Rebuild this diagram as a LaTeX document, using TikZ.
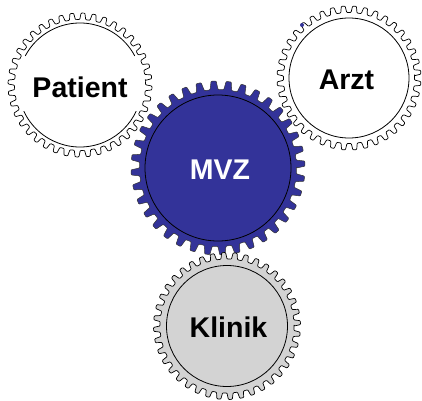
\documentclass[tikz,border=0pt]{standalone}
\usepackage{fontspec}
\setmainfont{Liberation Sans}
\usepackage{tikz}
\usetikzlibrary{positioning}

\definecolor{mvzblue}{RGB}{51,51,153}
\definecolor{kliniggray}{RGB}{211,211,211}

% gear outline: style, centre, teeth, root radius, tip radius, phase
\newcommand{\drawgear}[6]{%
  \pgfmathsetmacro{\pitch}{360/#3}%
  \draw[#1, shift={(#2)}] (#6:#4)
    \foreach \k in {1,...,#3}{
      -- ({#6+(\k-1)*\pitch+0.12*\pitch}:#5)
      -- ({#6+(\k-1)*\pitch+0.46*\pitch}:#5)
      -- ({#6+(\k-1)*\pitch+0.58*\pitch}:#4)
      -- ({#6+\k*\pitch}:#4)
    } -- cycle;}

\begin{document}
\begin{tikzpicture}[x=1pt,y=1pt,
  gear/.style={draw=black,line width=0.7pt,line join=round,rounded corners=0.8pt},
  ring/.style={draw=black,line width=0.8pt},
  gear label/.style={font=\fontsize{28.5}{30}\selectfont\bfseries,inner sep=0pt}]
\useasboundingbox (0,0) rectangle (422,400);

% centres of the four gears
\coordinate (cmvz) at (218,232);
\coordinate (cpatient) at (80,315);
\coordinate (carzt) at (349,322);
\coordinate (cklinik) at (227,74);

% middle gear
\drawgear{gear,fill=mvzblue,draw=black!80,line width=0.5pt}{cmvz}{36}{78.5}{87}{0}
\draw[ring] (cmvz) circle[radius=73pt];
\node[gear label,text=white,anchor=base] (mvz) at (220,221) {MVZ};

% outer gears
\drawgear{gear,fill=white}{cpatient}{40}{65.5}{72}{4}
\draw[ring] ([shift={(28:62pt)}]cpatient) arc[start angle=28,end angle=152,radius=62pt];
\draw[ring] ([shift={(205:62pt)}]cpatient) arc[start angle=205,end angle=335,radius=62pt];
\node[gear label,anchor=base] (patient) at (80,303) {Patient};

\drawgear{gear,fill=white}{carzt}{40}{65.5}{72}{2}
\draw[ring] (carzt) circle[radius=60pt];
\node[gear label,anchor=base] (arzt) at (346.5,311) {Arzt};
\fill[mvzblue] (302,375) circle[radius=2pt];

\drawgear{gear,fill=kliniggray}{cklinik}{40}{67}{73.5}{0}
\draw[ring] (cklinik) circle[radius=60.5pt];
\node[gear label,anchor=base] (klinik) at (228.5,63) {Klinik};
\end{tikzpicture}
\end{document}
